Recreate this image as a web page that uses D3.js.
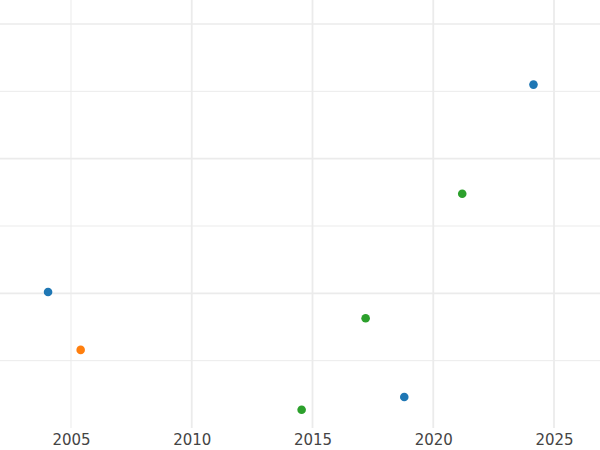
<!DOCTYPE html>
<html><head><meta charset="utf-8">
<script src="https://cdn.jsdelivr.net/npm/d3@7"></script>
<style>body{margin:0;background:#fff}</style>
</head><body>
<svg id="chart" width="600" height="450"></svg>
<script>
// data
const years  = [2004.05, 2005.4, 2014.55, 2017.2, 2018.8, 2021.2, 2024.15];
const values = [2.02, 1.16, 0.27, 1.63, 0.46, 3.48, 5.1];
const groups = ["a", "b", "c", "c", "a", "c", "a"];
const xTicks = [2005, 2010, 2015, 2020, 2025];
const yTicks = [1, 2, 3, 4, 5, 6];

let svg = d3.select("svg#chart");

let x = d3.scaleLinear().domain([2005, 2025]).range([71, 554]);
let y = d3.scaleLinear().domain([0, 6]).range([428, 24]);
let color = d3.scaleOrdinal().domain(["a", "b", "c"]).range(["#1f77b4", "#ff7f0e", "#2ca02c"]);

//grid lines
svg.append("g").selectAll("line").data(yTicks).join("line")
  .attr("x1", 0).attr("x2", 600)
  .attr("y1", d => y(d)).attr("y2", d => y(d))
  .attr("stroke", "#ebebeb")
  .attr("stroke-width", d => d % 2 == 0 ? 1.6 : 1);

svg.append("g").selectAll("line").data(xTicks).join("line")
  .attr("y1", 0).attr("y2", 428)
  .attr("x1", d => x(d)).attr("x2", d => x(d))
  .attr("stroke", "#ebebeb")
  .attr("stroke-width", d => d == 2005 ? 1 : 1.8);

//x axis labels
let ax = svg.append("g").attr("transform", "translate(0,428)")
  .call(d3.axisBottom(x).tickValues(xTicks).tickFormat(d3.format("d")).tickSize(0).tickPadding(6));
ax.select(".domain").remove();
ax.selectAll("text").attr("font-family", "DejaVu Sans").attr("font-size", 15).attr("fill", "#444");

//points
svg.append("g").selectAll("circle").data(years).join("circle")
  .attr("cx", d => x(d))
  .attr("cy", (d, i) => y(values[i]))
  .attr("r", 4.3)
  .attr("fill", (d, i) => color(groups[i]));
</script>
</body></html>
